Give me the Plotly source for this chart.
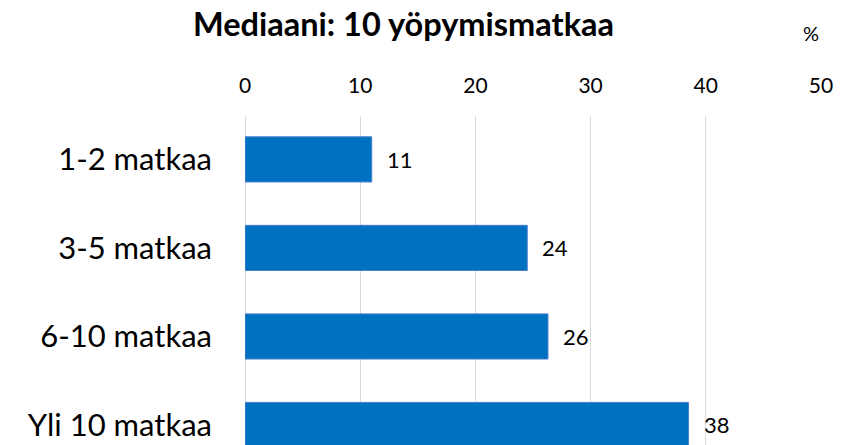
import plotly.graph_objects as go

categories = ["1-2 matkaa", "3-5 matkaa", "6-10 matkaa", "Yli 10 matkaa"]
values = [11.0, 24.5, 26.3, 38.5]
value_labels = ["11", "24", "26", "38"]
tick_values = [0, 10, 20, 30, 40, 50]
title_text = "Mediaani: 10 yöpymismatkaa"
unit_text = "%"

FONT = "Lato"

fig = go.Figure()
fig.add_trace(go.Bar(
    x=values,
    y=categories,
    orientation="h",
    width=0.51,
    marker=dict(color="#0070C0", line=dict(color="#4A7FD0", width=1)),
    hoverinfo="skip",
))

for cat, v, lab in zip(categories, values, value_labels):
    fig.add_annotation(
        x=v, y=cat, text=lab, showarrow=False,
        xanchor="left", yanchor="middle", xshift=13,
        font=dict(family=FONT, size=22, color="#000000"),
    )

fig.add_annotation(
    xref="paper", yref="paper", x=0.275, y=1.0, yshift=93,
    text="<b>" + title_text + "</b>", showarrow=False,
    xanchor="center", yanchor="middle",
    font=dict(family=FONT, size=32.5, color="#000000"),
)
fig.add_annotation(
    xref="paper", yref="paper", x=0.983, y=1.0, yshift=83,
    text=unit_text, showarrow=False,
    xanchor="center", yanchor="middle",
    font=dict(family=FONT, size=20, color="#000000"),
)

fig.update_layout(
    width=851, height=445,
    margin=dict(l=244.5, r=29.5, t=116, b=0, autoexpand=False),
    paper_bgcolor="white", plot_bgcolor="white",
    showlegend=False,
    xaxis=dict(
        side="top", range=[0, 50], tickvals=tick_values,
        showgrid=True, gridcolor="#D9D9D9", gridwidth=1,
        zeroline=True, zerolinecolor="#D9D9D9", zerolinewidth=1,
        showline=False, ticks="", ticklabelstandoff=18,
        tickfont=dict(family=FONT, size=21, color="#000000"),
        fixedrange=True,
    ),
    yaxis=dict(
        categoryorder="array", categoryarray=categories,
        range=[3.226, -0.49], autorange=False,
        showgrid=False, zeroline=False, showline=False, ticks="",
        ticklabelstandoff=32,
        tickfont=dict(family=FONT, size=31, color="#000000"),
        fixedrange=True,
    ),
)

fig.write_html(
    "out.html",
    config={"displayModeBar": False},
    post_script="document.body.style.margin='0';document.body.style.overflow='hidden';",
)
